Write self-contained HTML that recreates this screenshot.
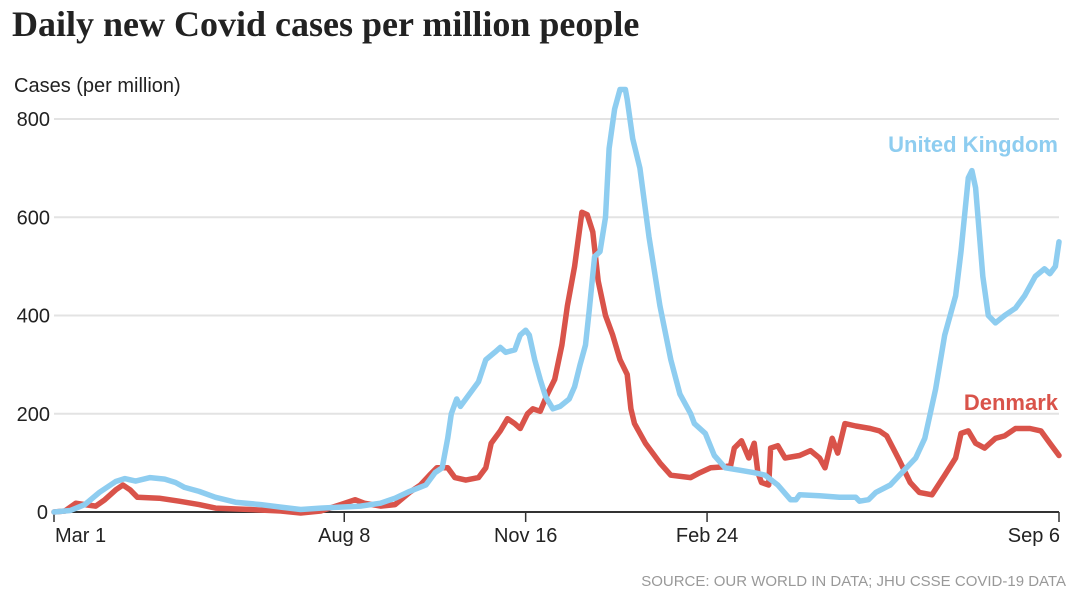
<!DOCTYPE html>
<html><head><meta charset="utf-8"><style>
body{margin:0;background:#fff;width:1080px;height:616px;overflow:hidden;font-family:"Liberation Sans",sans-serif}
svg{display:block}
</style></head><body>
<svg id="chart" width="1080" height="616" viewBox="0 0 1080 616">
<text x="12" y="36" font-family="Liberation Serif,serif" font-weight="bold" font-size="36" fill="#222">Daily new Covid cases per million people</text>
<text x="14" y="92" font-family="Liberation Sans Narrow,Liberation Sans,sans-serif" font-size="20" fill="#222">Cases (per million)</text>
<g id="grid"></g><g id="ylabels"></g><g id="xaxis"></g><g id="lines"></g>
<text x="1058" y="152" text-anchor="end" font-family="Liberation Sans Narrow,Liberation Sans,sans-serif" font-weight="bold" font-size="22" fill="#8ecdf0">United Kingdom</text>
<text x="1058" y="410" text-anchor="end" font-family="Liberation Sans Narrow,Liberation Sans,sans-serif" font-weight="bold" font-size="22" fill="#d9534a">Denmark</text>
<text x="1066" y="586" text-anchor="end" font-family="Liberation Sans Narrow,Liberation Sans,sans-serif" font-size="15" fill="#999">SOURCE: OUR WORLD IN DATA; JHU CSSE COVID-19 DATA</text>
</svg>
<script>
const yTicks=[0,200,400,600,800];
const xTickDays=[0,160,260,360,554];
const xTickLabels=["Mar 1","Aug 8","Nov 16","Feb 24","Sep 6"];
const ukDays=[0,9,17,25,34,39,45,53,61,67,72,80,89,100,114,125,136,147,158,169,180,188,196,205,210,214,217,219,222,224,229,234,238,243,246,249,254,257,260,262,265,268,271,275,279,284,287,290,293,295,298,301,304,306,309,312,315,316,319,323,328,334,340,345,351,353,359,364,370,378,386,392,399,406,409,411,422,433,442,444,449,453,461,466,475,480,486,491,497,500,504,506,508,512,515,519,524,530,535,541,546,549,552,554];
const ukValues=[0,3,15,40,62,68,63,70,67,60,50,42,30,20,15,10,5,8,10,12,18,28,42,55,80,90,150,200,230,215,240,265,310,325,335,325,330,360,370,360,310,270,235,210,215,230,255,300,340,410,520,530,600,740,820,860,860,840,760,700,560,420,310,240,200,180,160,115,90,85,80,75,55,25,25,35,33,30,30,22,25,40,55,75,110,150,250,360,440,530,680,695,660,480,400,385,400,415,440,480,495,485,500,550];
const dkDays=[0,6,12,17,23,28,34,38,42,46,58,69,80,89,108,125,136,147,158,166,171,180,188,196,202,207,211,217,221,227,234,238,241,246,250,254,257,261,264,268,272,276,280,283,287,291,294,297,300,304,308,312,316,318,320,326,334,340,351,356,362,370,373,375,379,383,386,388,390,394,395,399,403,411,417,422,425,429,432,436,442,450,455,459,466,472,477,484,491,497,500,504,508,513,519,524,530,538,544,549,554];
const dkValues=[0,2,18,15,12,25,45,55,45,30,28,22,15,8,5,2,-2,2,15,25,18,12,15,40,55,75,90,90,70,65,70,90,140,165,190,180,170,200,210,205,240,270,340,420,500,610,605,570,470,400,360,310,280,210,180,140,100,75,70,80,90,92,95,130,145,110,140,80,60,55,130,135,110,115,125,110,90,150,120,180,175,170,165,155,105,60,40,35,75,110,160,165,140,130,150,155,170,170,165,140,115];

const NS="http://www.w3.org/2000/svg";
const X0=54,X1=1059,Y0=512,Y800=119,maxDay=554;
const xs=d=>X0+(X1-X0)*d/maxDay;
const ys=v=>Y0-(Y0-Y800)*v/800;
function mk(t,a){const e=document.createElementNS(NS,t);for(const k in a)e.setAttribute(k,a[k]);return e;}
const grid=document.getElementById('grid'),yl=document.getElementById('ylabels'),xa=document.getElementById('xaxis'),ln=document.getElementById('lines');
yTicks.forEach(v=>{
  if(v>0){const l=mk('line',{x1:X0,x2:X1,y1:ys(v),y2:ys(v),stroke:'#e3e3e3','stroke-width':2});
  
  
  grid.appendChild(l);}
  const t=mk('text',{x:v===0?48:50,y:ys(v)+7,'text-anchor':'end','font-size':20,fill:'#222','font-family':'Liberation Sans Narrow,Liberation Sans,sans-serif'});
  
  
  t.textContent=v;yl.appendChild(t);
});
const base=mk('line',{x1:X0,x2:X1,y1:Y0,y2:Y0,stroke:'#333','stroke-width':2});


xa.appendChild(base);
xTickDays.forEach((d,i)=>{
  const tk=mk('line',{x1:xs(d),x2:xs(d),y1:Y0,y2:Y0+10,stroke:'#333','stroke-width':1.5});
  
  
  xa.appendChild(tk);
  const anchor=i===0?'start':(i===xTickLabels.length-1?'end':'middle');
  const t=mk('text',{x:xs(d)+(i===0?1:(i===4?1:0)),y:542,'text-anchor':anchor,'font-size':20,fill:'#222','font-family':'Liberation Sans Narrow,Liberation Sans,sans-serif'});
  
  
  t.textContent=xTickLabels[i];xa.appendChild(t);
});
function path(days,vals){return days.map((d,i)=>(i?'L':'M')+xs(d).toFixed(1)+','+ys(vals[i]).toFixed(1)).join('');}
const pd=mk('path',{d:path(dkDays,dkValues),fill:'none',stroke:'#d9534a','stroke-width':5.5,'stroke-linejoin':'round','stroke-linecap':'round'});


ln.appendChild(pd);
const pu=mk('path',{d:path(ukDays,ukValues),fill:'none',stroke:'#8ecdf0','stroke-width':5.5,'stroke-linejoin':'round','stroke-linecap':'round'});


ln.appendChild(pu);
</script>
</body></html>
